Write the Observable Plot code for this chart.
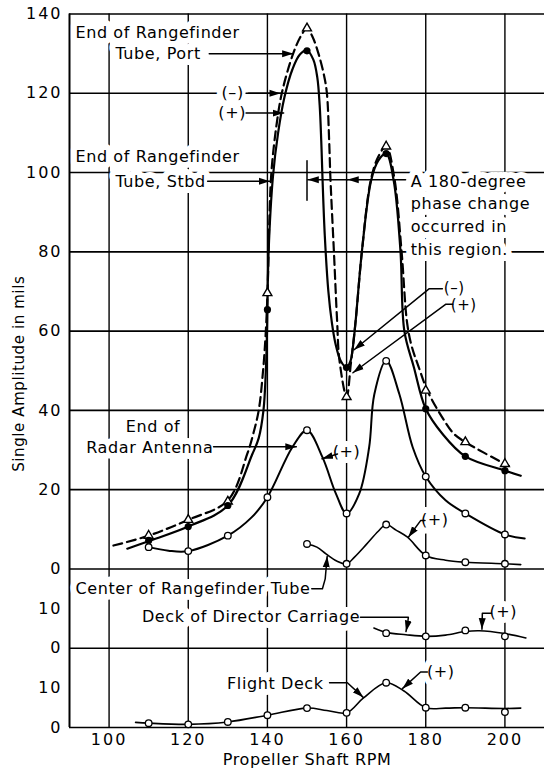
<!DOCTYPE html>
<html><head><meta charset="utf-8">
<script src="https://cdn.jsdelivr.net/npm/d3@7"></script>
<script src="https://cdn.jsdelivr.net/npm/@observablehq/plot@0.6"></script>
<style>
html,body{margin:0;padding:0;background:#fff;}
#chart svg{display:block;}
#chart text{letter-spacing:0.6px;}
#chart g[aria-label="y-axis tick label"] text,
#chart g[aria-label="x-axis tick label"] text{letter-spacing:2px;}
</style></head>
<body><div id="chart"></div>
<script>
// ---- axes / ticks ----
const xTicks = [100, 120, 140, 160, 180, 200];
const yTickValues = [0, 10, 20, 30, 40, 60, 80, 100, 120, 140, 160, 180];
const yTickLabels = ["0", "10", "0", "10", "0", "20", "40", "60", "80", "100", "120", "140"];
const hGrid = [0, 20, 40, 60, 80, 100, 120, 140, 160, 180];
// panel offsets on the shared vertical scale (main, director carriage, flight deck)
const MAIN = 40, MID = 20, LOW = 0;

// ---- measured points ----
const rpm = [110, 120, 130, 140, 150, 160, 170, 180, 190, 200];
const stbdDots = [7.2, 10.7, 16.0, 65.4, 130.7, 50.8, 104.8, 40.4, 28.4, 24.8];
const portTriangles = [8.4, 12.4, 17.0, 69.6, 136.4, 43.4, 106.6, 45.0, 32.0, 26.5];
const radarCircles = [5.5, 4.5, 8.4, 18.1, 35.0, 14.0, 52.5, 23.3, 14.0, 8.7];
const centerRpm = [150, 160, 170, 180, 190, 200];
const centerCircles = [6.3, 1.3, 11.2, 3.4, 1.7, 1.3];
const deckRpm = [170, 180, 190, 200];
const deckCircles = [3.8, 3.0, 4.5, 3.0];
const flightCircles = [1.1, 0.8, 1.4, 3.1, 4.9, 3.7, 11.3, 5.0, 5.0, 3.9];

// ---- faired curves [rpm, amplitude] ----
const stbdTrace = [[104.6,5.1],[110,7.0],[120,10.7],[130,16.0],[136.2,29],[137.8,33],[139,40],[139.6,50],[139.9,60],[140.3,80],[141.4,99],[142.7,110],[144.3,119],[146.3,126],[148.2,129.8],[150,130.8],[151.6,128.5],[152.6,124],[153.2,117],[153.6,108],[153.9,99],[154.5,84],[155.4,70],[156.3,62],[157.2,56.8],[158.5,52.5],[160,50.8],[161,52.5],[161.6,56],[162.3,62.7],[163.9,80.4],[166.2,98],[168,103],[170,104.8],[171.9,98],[173.6,80.4],[174.6,60],[177,50.9],[180,40.4],[184.2,34.1],[190,28.4],[200,24.8],[204,23.5]];
const portTrace = [[101.1,5.9],[110,8.4],[120,12.4],[130,17.3],[134.9,29],[136.4,34],[137.8,40],[138.9,50],[139.6,60],[140.1,72],[140.4,85],[141,100],[142.3,112],[143.7,120.3],[146.5,130],[148.5,134.5],[150,136.4],[151.5,134],[152.9,130],[154.2,125],[155,120.3],[155.6,108],[155.9,99],[156.8,80],[157.6,62.7],[158.2,52.6],[160,43.4],[161.1,52],[162.3,62.7],[163.9,80.4],[166.1,98],[168,104],[170,106.6],[172,99],[173.9,80],[175.3,62],[176.5,56],[178.2,51],[180.4,45],[184,38.5],[187.1,34.1],[190,32],[200,26.5],[201,26]];
const radarTrace = [[110,5.5],[115,4.6],[120,4.5],[130,8.4],[136,13],[140,18.1],[146.3,30.7],[150,35],[153.9,28.2],[157.3,19],[160,14],[163.2,19],[165.7,30.7],[167,44],[170,52.5],[173.3,44.2],[176.7,30.7],[180,23.3],[185,17.3],[190,14.0],[200,8.7],[205,7.7]];
const centerTrace = [[150,6.3],[152.5,5.5],[154.8,3.8],[157.5,2.0],[160,1.3],[162,3],[165,6.2],[168,9.5],[170,11.2],[172.5,9.8],[175.4,8.0],[180,3.4],[185,2.2],[190,1.7],[200,1.3],[204,1.1]];
const deckTrace = [[166.9,5.1],[170,4.0],[175,3.4],[180,3.0],[185,3.3],[190,4.2],[193.5,4.4],[200,3.7],[205.3,2.6]];
const flightTrace = [[106.7,1.3],[110,1.1],[120,0.8],[130,1.4],[140,3.1],[150,4.9],[155,4.3],[160,3.7],[164.2,7.4],[170,11.3],[174.5,9.2],[180,5.0],[185,4.9],[190,5.0],[200,4.8],[204,4.9]];

// ---- annotations (rpm, shared vertical value) ----
const startTexts = [
  {x: 91.5, y: 175.3, t: "End of Rangefinder"},
  {x: 101.6, y: 170.0, t: "Tube, Port"},
  {x: 91.5, y: 143.9, t: "End of Rangefinder"},
  {x: 101.6, y: 137.6, t: "Tube, Stbd"},
  {x: 91.5, y: 35.0, t: "Center of Rangefinder Tube"},
  {x: 108.3, y: 27.8, t: "Deck of Director Carriage"},
  {x: 129.8, y: 11.0, t: "Flight Deck"}
];
const middleTexts = [
  {x: 131.2, y: 160.0, t: "(–)"},
  {x: 131.1, y: 155.0, t: "(+)"},
  {x: 111.1, y: 75.8, t: "End of"},
  {x: 110.3, y: 70.6, t: "Radar Antenna"},
  {x: 160.0, y: 69.5, t: "(+)"},
  {x: 182.3, y: 52.5, t: "(+)"},
  {x: 199.6, y: 29.1, t: "(+)"},
  {x: 183.8, y: 14.1, t: "(+)"}
];
const dipTexts = [
  {x: 187.2, y: 110.9, t: "(–)"},
  {x: 189.6, y: 106.6, t: "(+)"}
];
const phaseText = {x: 176.2, y: 129.7, t: "A 180-degree\nphase change\noccurred in\nthis region."};
const arrowPaths = [
  {id: "port", pts: [[125.3,170],[146.5,170]]},
  {id: "portMinus", pts: [[134.6,160],[143.3,160]]},
  {id: "portPlus", pts: [[134.6,155],[144.1,155]]},
  {id: "stbd", pts: [[124.9,137.8],[140.6,137.8]]},
  {id: "phaseA", pts: [[174.9,138.2],[160.3,138.2]]},
  {id: "phaseB", pts: [[160.3,138.2],[150.2,138.2]]},
  {id: "dipMinus", pts: [[184.2,110.7],[180.9,110.7],[161.9,95.3]]},
  {id: "dipPlus", pts: [[186.8,106.8],[185.1,106.8],[161.6,89.5]]},
  {id: "radar", pts: [[126.4,70.8],[147.3,70.8]]},
  {id: "radarPlus", pts: [[157.7,69.0],[153.8,67.8]]},
  {id: "centerPlus", pts: [[179.8,52.2],[178.7,52.2],[175.6,48.0]]},
  {id: "center", pts: [[151.2,35],[153.9,35],[154.6,37.5],[155.1,43.2]]},
  {id: "deck", pts: [[163.5,27.8],[175.6,27.8],[175.4,26.0],[175.0,24.2]]},
  {id: "deckPlus", pts: [[196.6,28.8],[194.3,28.8],[194.2,24.8]]},
  {id: "flight", pts: [[155.7,11.3],[160.2,11.3],[164.2,7.6]]},
  {id: "flightPlus", pts: [[180.4,14.0],[178.7,14.0],[174.1,9.8]]}
];
const phaseTick = [[150,143],[150,133]];

// ---- helpers ----
const arrowRows = arrowPaths.flatMap(a => a.pts.map(p => ({id: a.id, x: p[0], y: p[1]})));
const yLabelOf = new Map(yTickValues.map((v, i) => [v, yTickLabels[i]]));
function filledArrow() {
  const ns = "http://www.w3.org/2000/svg";
  const m = document.createElementNS(ns, "marker");
  m.setAttribute("viewBox", "-11 -4 11 8");
  m.setAttribute("markerWidth", 11);
  m.setAttribute("markerHeight", 8);
  m.setAttribute("markerUnits", "userSpaceOnUse");
  m.setAttribute("orient", "auto");
  m.setAttribute("fill", "black");
  m.setAttribute("stroke", "none");
  const p = document.createElementNS(ns, "path");
  p.setAttribute("d", "M-11,-3.5L0,0L-11,3.5Z");
  m.appendChild(p);
  return m;
}
const curve = (trace, off, opts) => Plot.line(trace, {x: d => d[0], y: d => d[1] + off, curve: "catmull-rom", stroke: "black", ...opts});
const pointsOf = (xs, ys, off) => xs.map((x, i) => ({x, y: ys[i] + off}));
const halo = {fill: "black", stroke: "white", strokeWidth: 12, strokeLinejoin: "round", paintOrder: "stroke"};

const chart = Plot.plot({
  width: 544, height: 772,
  marginLeft: 69, marginRight: 0, marginTop: 13.5, marginBottom: 45,
  x: {domain: [90, 210]},
  y: {domain: [0, 180]},
  style: {fontFamily: "DejaVu Sans", fontSize: "16px", color: "black", background: "white", overflow: "visible"},
  marks: [
    Plot.ruleY(hGrid, {x1: 90, x2: 210, stroke: "black", strokeWidth: 1.6}),
    Plot.ruleX(xTicks, {y1: 0, y2: 180, stroke: "black", strokeWidth: 1.4}),
    Plot.ruleX([90], {y1: 0, y2: 180, stroke: "black", strokeWidth: 2}),
    // labels (white halo breaks the grid like the original lettering)
    Plot.text(startTexts, {x: "x", y: "y", text: "t", textAnchor: "start", ...halo}),
    Plot.text(middleTexts, {x: "x", y: "y", text: "t", textAnchor: "middle", ...halo}),
    Plot.text(dipTexts, {x: "x", y: "y", text: "t", textAnchor: "middle", fontSize: 15, ...halo, strokeWidth: 5}),
    Plot.text([phaseText], {x: "x", y: "y", text: "t", textAnchor: "start", lineHeight: 1.42, ...halo}),
    // curves
    curve(portTrace, MAIN, {strokeWidth: 2.2, strokeDasharray: "9,5"}),
    curve(stbdTrace, MAIN, {strokeWidth: 2.2}),
    curve(radarTrace, MAIN, {strokeWidth: 2}),
    curve(centerTrace, MAIN, {strokeWidth: 1.6}),
    curve(deckTrace, MID, {strokeWidth: 1.6}),
    curve(flightTrace, LOW, {strokeWidth: 1.6}),
    // markers
    Plot.dot(pointsOf(rpm, portTriangles, MAIN), {x: "x", y: "y", symbol: "triangle", r: 3.3, fill: "white", stroke: "black", strokeWidth: 1.4}),
    Plot.dot(pointsOf(rpm, stbdDots, MAIN), {x: "x", y: "y", r: 3.6, fill: "black"}),
    Plot.dot(pointsOf(rpm, radarCircles, MAIN), {x: "x", y: "y", r: 3.3, fill: "white", stroke: "black", strokeWidth: 1.3}),
    Plot.dot(pointsOf(centerRpm, centerCircles, MAIN), {x: "x", y: "y", r: 3.3, fill: "white", stroke: "black", strokeWidth: 1.3}),
    Plot.dot(pointsOf(deckRpm, deckCircles, MID), {x: "x", y: "y", r: 3.3, fill: "white", stroke: "black", strokeWidth: 1.3}),
    Plot.dot(pointsOf(rpm, flightCircles, LOW), {x: "x", y: "y", r: 3.3, fill: "white", stroke: "black", strokeWidth: 1.3}),
    // arrows
    Plot.line(arrowRows, {x: "x", y: "y", z: "id", stroke: "black", strokeWidth: 1.5, markerEnd: filledArrow}),
    Plot.line(phaseTick, {x: d => d[0], y: d => d[1], stroke: "black", strokeWidth: 1.5}),
    // axes
    Plot.axisX(xTicks, {tickSize: 0, tickPadding: 6, label: null, fontSize: 16}),
    Plot.axisY(yTickValues, {tickSize: 0, tickPadding: 7, label: null, tickFormat: d => yLabelOf.get(d), fontSize: 16}),
    Plot.text(["Propeller Shaft RPM"], {frameAnchor: "bottom", dy: 32, lineAnchor: "middle", textAnchor: "middle", text: d => d, fontSize: 16}),
    Plot.text(["Single Amplitude in mils"], {frameAnchor: "left", dx: -50, dy: 3, rotate: -90, textAnchor: "middle", lineAnchor: "middle", text: d => d, fontSize: 15})
  ]
});
document.getElementById("chart").appendChild(chart);
</script>
</body></html>
